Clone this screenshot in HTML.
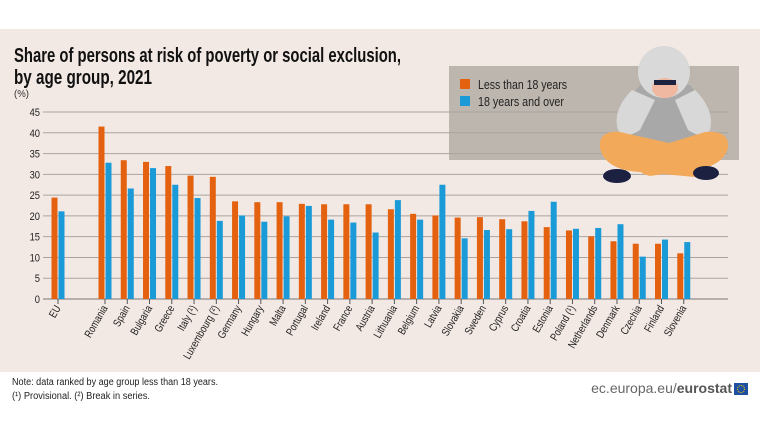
<!DOCTYPE html>
<html><head><meta charset="utf-8"><style>
body{margin:0;background:#fff;}
svg{display:block;}
text{font-family:"Liberation Sans Narrow","Liberation Sans",sans-serif;}
</style></head><body>
<svg width="760" height="437" viewBox="0 0 760 437" xmlns="http://www.w3.org/2000/svg">
<rect x="0" y="0" width="760" height="437" fill="#fff"/>
<rect x="0" y="29" width="760" height="343" fill="#f3e9e4"/>
<text x="14" y="62" font-size="20" font-weight="bold" fill="#111" textLength="387" lengthAdjust="spacingAndGlyphs">Share of persons at risk of poverty or social exclusion,</text>
<text x="14" y="84" font-size="20" font-weight="bold" fill="#111" textLength="138" lengthAdjust="spacingAndGlyphs">by age group, 2021</text>
<text x="14" y="97" font-size="10" fill="#333" textLength="15" lengthAdjust="spacingAndGlyphs">(%)</text>
<rect x="449" y="66" width="290" height="94" fill="#bdb6af"/>
<g id="grid" stroke="#a9a4a0" stroke-width="1">
</g>
<g font-size="11" fill="#222" text-anchor="end" id="yl"></g>
<g id="bars"></g>
<g id="ticks" stroke="#555" stroke-width="1"></g>
<g id="labels" font-size="11" fill="#222"></g>
<rect x="460" y="79" width="10" height="10" fill="#e3610f"/>
<rect x="460" y="96" width="10" height="10" fill="#1a9ad7"/>
<text x="478" y="89" font-size="13" fill="#222" textLength="89" lengthAdjust="spacingAndGlyphs">Less than 18 years</text>
<text x="478" y="106" font-size="13" fill="#222" textLength="86" lengthAdjust="spacingAndGlyphs">18 years and over</text>
<!-- person -->
<g>
<path d="M628 150 Q618 110 640 85 L690 85 Q712 110 705 150 Z" fill="#a8a8a8"/>
<path d="M632 90 Q612 110 618 130 Q625 140 640 130 L655 100 Z" fill="#d8d8d8"/>
<path d="M695 90 Q715 110 710 130 Q703 140 688 130 L675 100 Z" fill="#d8d8d8"/>
<circle cx="664" cy="72" r="26" fill="#d9d9d9"/>
<ellipse cx="665" cy="88" rx="13" ry="10" fill="#f0b8a0"/>
<rect x="654" y="80" width="22" height="5" fill="#1d2240"/>
<path d="M600 148 Q598 130 620 132 L700 150 Q712 170 695 177 L640 172 Q605 170 600 148Z" fill="#f2a95a"/>
<path d="M728 148 Q730 130 705 132 L640 152 Q630 172 650 176 L690 170 Q722 168 728 148Z" fill="#f2a95a"/>
<ellipse cx="617" cy="176" rx="14" ry="7" fill="#1c2142"/>
<ellipse cx="706" cy="173" rx="13" ry="7" fill="#1c2142"/>
</g>
<text x="12" y="385" font-size="10" fill="#222" textLength="206" lengthAdjust="spacingAndGlyphs">Note: data ranked by age group less than 18 years.</text>
<text x="12" y="399" font-size="10" fill="#222" textLength="138" lengthAdjust="spacingAndGlyphs">(¹) Provisional.    (²) Break in series.</text>
<text x="732" y="393" font-size="14" text-anchor="end" fill="#666" style="font-family:'Liberation Sans',sans-serif">ec.europa.eu/<tspan font-weight="bold" fill="#555">eurostat</tspan></text>
<rect x="734" y="383" width="14" height="12" fill="#1f4fa0"/>
<circle cx="741" cy="389" r="3.5" fill="none" stroke="#f4d000" stroke-width="1" stroke-dasharray="1 1"/>
</svg>
<script>
const ns="http://www.w3.org/2000/svg";
function el(p,t,a,tx){const e=document.createElementNS(ns,t);for(const k in a)e.setAttribute(k,a[k]);if(tx!=null)e.textContent=tx;document.getElementById(p).appendChild(e);}
const y0=299,k=4.155;
for(let v=0;v<=45;v+=5){const y=y0-v*k;el('grid','line',{x1:43,x2:728,y1:y,y2:y,stroke:v==0?'#777':'#a9a4a0'});el('yl','text',{x:40,y:y+4,transform:`translate(40 0) scale(0.85 1) translate(-40 0)`},v);}
const d=[["EU",24.4,21.1],["Romania",41.5,32.8],["Spain",33.4,26.6],["Bulgaria",33.0,31.5],["Greece",32.0,27.5],["Italy (¹)",29.7,24.3],["Luxembourg (²)",29.4,18.8],["Germany",23.5,20.1],["Hungary",23.3,18.6],["Malta",23.3,19.9],["Portugal",22.9,22.4],["Ireland",22.8,19.1],["France",22.8,18.4],["Austria",22.8,16.0],["Lithuania",21.6,23.8],["Belgium",20.5,19.1],["Latvia",20.1,27.5],["Slovakia",19.6,14.6],["Sweden",19.7,16.6],["Cyprus",19.2,16.8],["Croatia",18.7,21.2],["Estonia",17.3,23.4],["Poland (¹)",16.5,16.9],["Netherlands",15.1,17.1],["Denmark",13.9,18.0],["Czechia",13.3,10.2],["Finland",13.3,14.3],["Slovenia",11.0,13.7]];
d.forEach((r,i)=>{const c=i==0?58:105+(i-1)*22.26;
el('bars','rect',{x:c-6.5,y:y0-r[1]*k,width:6,height:r[1]*k,fill:'#e3610f'});
el('bars','rect',{x:c+0.5,y:y0-r[2]*k,width:6,height:r[2]*k,fill:'#1a9ad7'});
el('ticks','line',{x1:c,x2:c,y1:y0,y2:y0+5});
el('labels','text',{x:0,y:0,'text-anchor':'end',transform:`translate(${c+3} ${y0+9}) rotate(-60) scale(0.8 1)`},r[0]);});
</script>
</body></html>
